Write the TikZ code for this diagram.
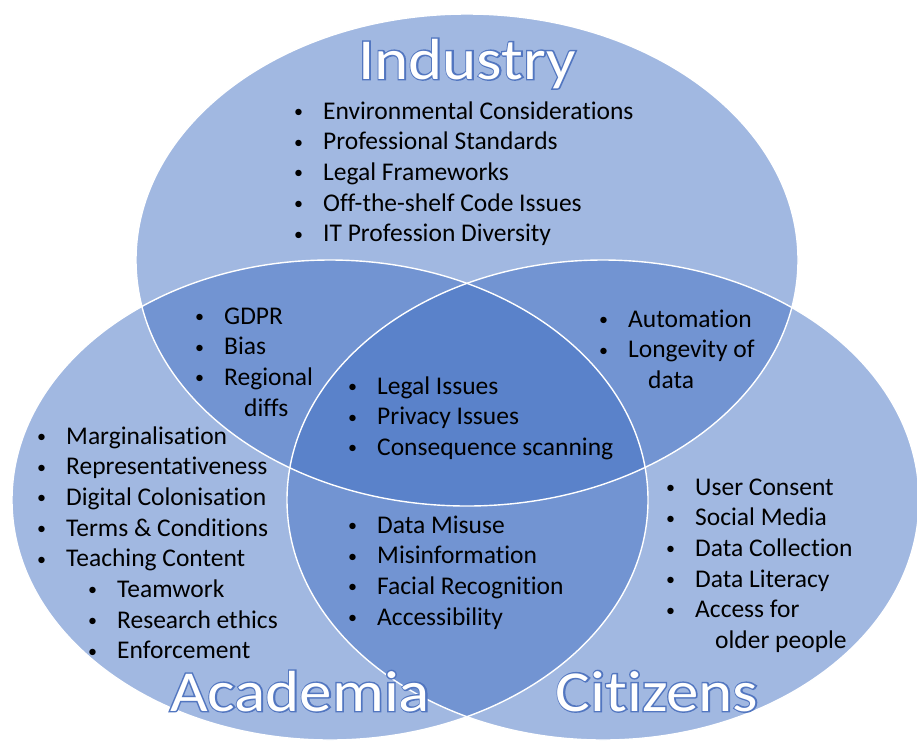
\documentclass[tikz,border=0pt]{standalone}
\usepackage{fontspec}
\setmainfont{Carlito}[Ligatures=CommonOff]
\newfontfamily\titlefont[FakeStretch=1.12, Ligatures=CommonOff]{Carlito}
\newfontfamily\titlerim[FakeStretch=1.12, FakeBold=5, Ligatures=CommonOff]{Carlito}

\definecolor{venn}{HTML}{4472C4}
\definecolor{outl}{HTML}{5276C0}

% bullet, sub-bullet and run-on line of a list
\newcommand{\bl}{\makebox[30pt][l]{\hspace{1pt}\raisebox{1.6pt}{\fontsize{18}{18}\selectfont\textbullet}}}
\newcommand{\subbl}{\hspace*{51pt}\bl}
\newcommand{\runon}{\hspace*{50pt}}

\tikzset{
  set/.style={fill=venn, fill opacity=0.5, draw=none},
  rim/.style={draw=white, line width=1.4pt},
  items/.style={anchor=base west, inner sep=0pt, text=black,
    font=\fontsize{25.5}{30.7}\selectfont},
  heading/.style={anchor=base, inner sep=0pt, text=white,
    font=\titlefont\fontsize{58}{60}\selectfont},
  headrim/.style={anchor=base, inner sep=0pt, text=outl,
    font=\titlerim\fontsize{58}{60}\selectfont}
}

% white title with a blue rim
\newcommand{\heading}[3]{%
  \node[headrim] at (#1) {#2};
  \node[heading] (#3) at (#1) {#2};}

\begin{document}
\begin{tikzpicture}[x=1pt, y=-1pt]

    % Page
    \fill[white] (0,0) rectangle (917,740);
    \useasboundingbox (0,0) rectangle (917,740);

    % The three sets, filled first so that every rim stays white
    \path[set] (467,260) ellipse [x radius=331pt, y radius=246pt];
    \path[set] (330,500) ellipse [x radius=318pt, y radius=240pt];
    \path[set] (603,500) ellipse [x radius=316pt, y radius=240pt];
    \draw[rim] (467,260) ellipse [x radius=331pt, y radius=246pt];
    \draw[rim] (330,500) ellipse [x radius=318pt, y radius=240pt];
    \draw[rim] (603,500) ellipse [x radius=316pt, y radius=240pt];

    % Titles
    \heading{467,79}{Industry}{industry}
    \heading{300,711}{Academia}{academia}
    \heading{657,711}{Citizens}{citizens}

    % Industry only
    \node[items] (ind-list) at (293,119) {\begin{tabular}[t]{@{}l@{}}
      \bl Environmental Considerations\\
      \bl Professional Standards\\
      \bl Legal Frameworks\\
      \bl Off-the-shelf Code Issues\\
      \bl IT Profession Diversity
    \end{tabular}};

    % Industry and Academia
    \node[items] (ind-aca-list) at (194,324) {\begin{tabular}[t]{@{}l@{}}
      \bl GDPR\\
      \bl Bias\\
      \bl Regional\\
      \runon diffs
    \end{tabular}};

    % Industry and Citizens
    \node[items] (ind-cit-list) at (598,327) {\begin{tabular}[t]{@{}l@{}}
      \bl Automation\\
      \bl Longevity of\\
      \runon data
    \end{tabular}};

    % All three
    \node[items] (all-list) at (347,394) {\begin{tabular}[t]{@{}l@{}}
      \bl Legal Issues\\
      \bl Privacy Issues\\
      \bl Consequence scanning
    \end{tabular}};

    % Academia only
    \node[items] (aca-list) at (36,444) {\begin{tabular}[t]{@{}l@{}}
      \bl Marginalisation\\
      \bl Representativeness\\
      \bl Digital Colonisation\\
      \bl Terms \& Conditions\\
      \bl Teaching Content\\
      \subbl Teamwork\\
      \subbl Research ethics\\
      \subbl Enforcement
    \end{tabular}};

    % Academia and Citizens
    \node[items] (aca-cit-list) at (347,533) {\begin{tabular}[t]{@{}l@{}}
      \bl Data Misuse\\
      \bl Misinformation\\
      \bl Facial Recognition\\
      \bl Accessibility
    \end{tabular}};

    % Citizens only
    \node[items] (cit-list) at (665,495) {\begin{tabular}[t]{@{}l@{}}
      \bl User Consent\\
      \bl Social Media\\
      \bl Data Collection\\
      \bl Data Literacy\\
      \bl Access for\\
      \runon older people
    \end{tabular}};

\end{tikzpicture}
\end{document}
